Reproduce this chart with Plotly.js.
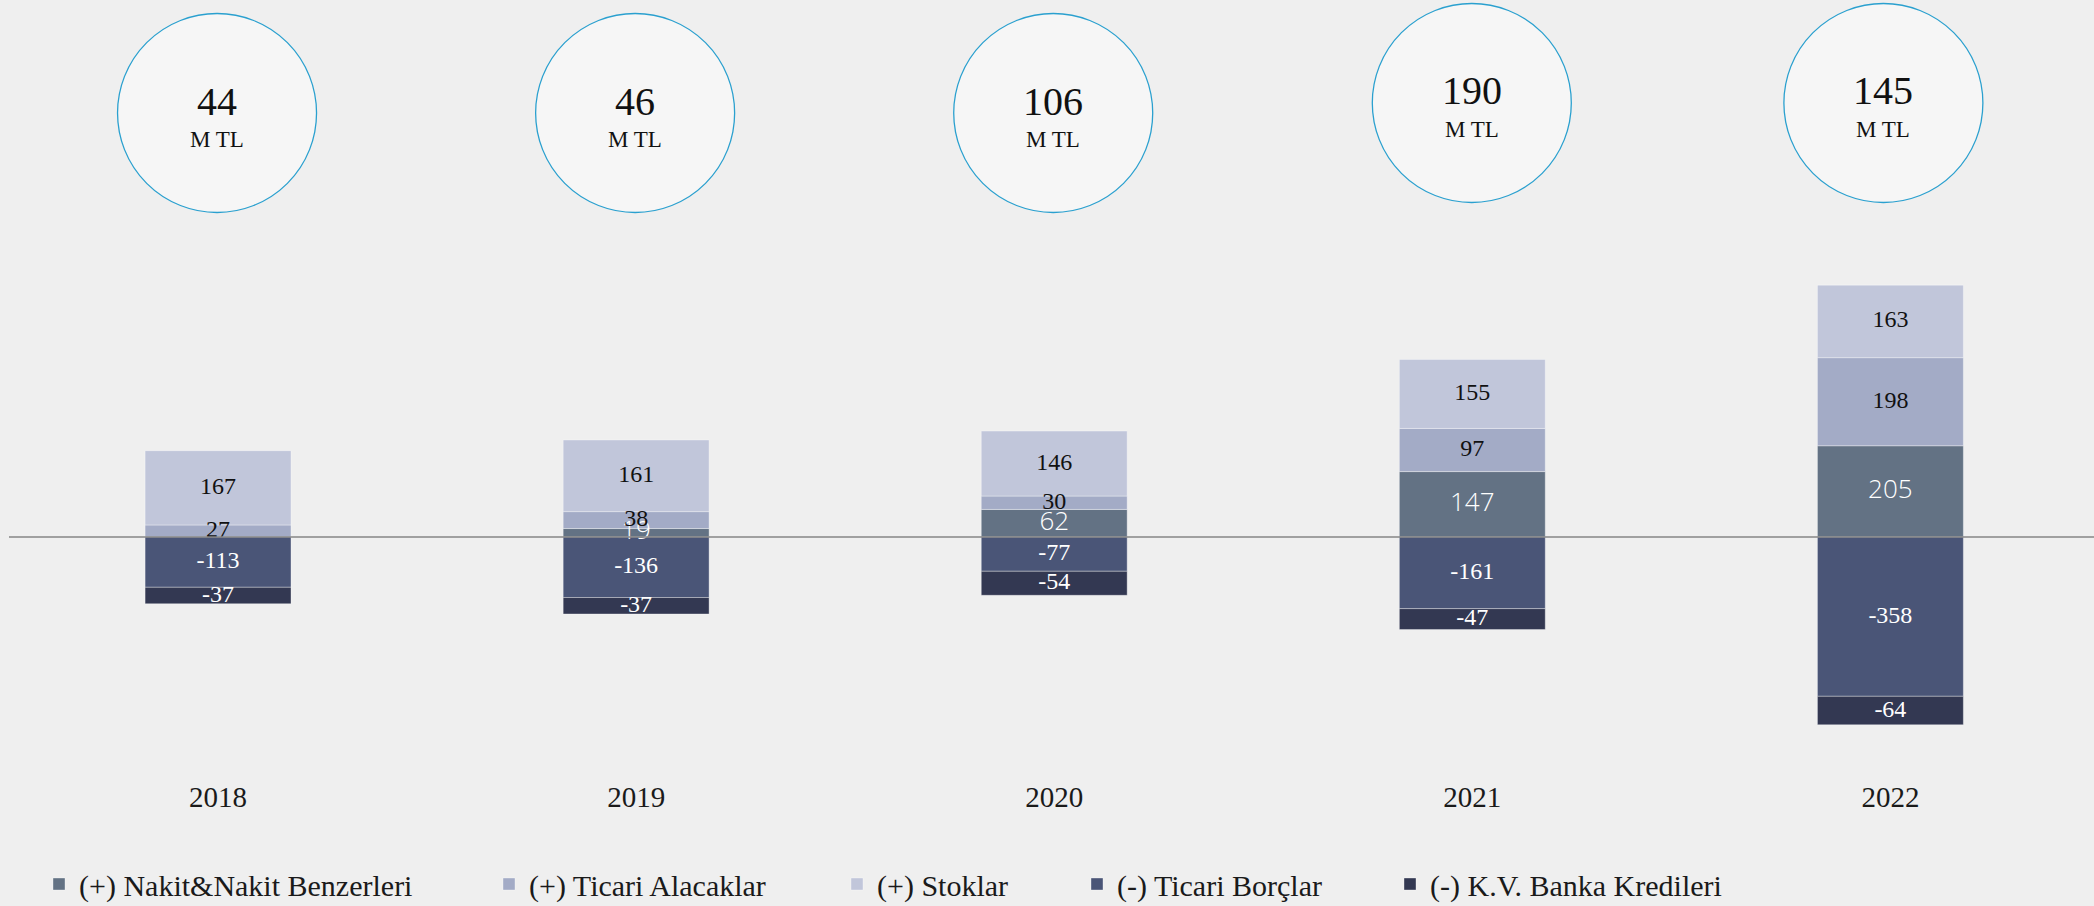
<!DOCTYPE html>
<html>
<head>
<meta charset="utf-8">
<script src="https://cdn.plot.ly/plotly-3.0.1.min.js"></script>
<style>
  html, body { margin: 0; padding: 0; background: #efefef; }
  #chart { width: 2094px; height: 906px; }
</style>
</head>
<body>
<div id="chart"></div>
<script>
// ---- data ----
const years = ['2018', '2019', '2020', '2021', '2022'];
const nakit = [null, 19, 62, 147, 205];        // (+) Nakit&Nakit Benzerleri
const alacaklar = [27, 38, 30, 97, 198];       // (+) Ticari Alacaklar
const stoklar = [167, 161, 146, 155, 163];     // (+) Stoklar
const borclar = [-113, -136, -77, -161, -358]; // (-) Ticari Borçlar
const krediler = [-37, -37, -54, -47, -64];    // (-) K.V. Banka Kredileri
const netTotals = [44, 46, 106, 190, 145];     // circle values
const unitLabel = 'M TL';
const seriesNames = [
  '(+) Nakit&Nakit Benzerleri',
  '(+) Ticari Alacaklar',
  '(+) Stoklar',
  '(-) Ticari Borçlar',
  '(-) K.V. Banka Kredileri'
];

// ---- styling / geometry ----
const W = 2094, H = 906;
const M = {l: 9, r: 0, t: 0, b: 140};
const plotW = W - M.l - M.r, plotH = H - M.t - M.b;
const zeroPx = 537, pxPerUnit = 0.445;
const yRange = [-(plotH - zeroPx) / pxPerUnit, zeroPx / pxPerUnit];

const colors = ['#637284', '#a3abc6', '#c1c6da', '#4a5577', '#333852'];
const serif = 'Liberation Serif, Times New Roman, serif';
const sans = 'Open Sans, Noto Sans, sans-serif';
const textFonts = [
  {family: sans, size: 26, color: '#ffffff', weight: 300},
  {family: serif, size: 24, color: '#111111'},
  {family: serif, size: 24, color: '#111111'},
  {family: serif, size: 24, color: '#ffffff'},
  {family: serif, size: 24, color: '#ffffff'}
];
const seriesValues = [nakit, alacaklar, stoklar, borclar, krediler];
const legendIds = ['legend', 'legend2', 'legend3', 'legend4', 'legend5'];
const legendSquareLeft = [53, 503, 851, 1091, 1404];

const barTraces = seriesValues.map((vals, k) => ({
  type: 'bar',
  name: seriesNames[k],
  x: years,
  y: vals,
  width: 0.349,
  marker: {color: colors[k], line: {color: 'rgba(255,255,255,0.35)', width: 1}},
  hoverinfo: 'skip',
  legend: legendIds[k]
}));

// label traces: centred in each stacked segment, drawn above all bars
const posBase = years.map(() => 0);
const negBase = years.map(() => 0);
const labelTraces = seriesValues.map((vals, k) => {
  const ys = vals.map((v, i) => {
    if (v === null) return null;
    if (v >= 0) { const m = posBase[i] + v / 2; posBase[i] += v; return m; }
    const m = negBase[i] + v / 2; negBase[i] += v; return m;
  });
  return {
    type: 'scatter', mode: 'text',
    x: years, y: ys,
    text: vals.map(v => (v === null ? '' : String(v))),
    textposition: 'middle center',
    textfont: textFonts[k],
    cliponaxis: false,
    showlegend: false,
    hoverinfo: 'skip'
  };
});

// circles
const circleCy = [113, 113, 113, 103, 103];
const circleDx = [-1, -1, -1, -0.5, -7];
const R = 99.5;
const shapes = [];
const annotations = [];
years.forEach((yr, i) => {
  const yp = (plotH - circleCy[i]) / plotH;
  shapes.push({
    type: 'circle', xref: 'x', yref: 'paper',
    xsizemode: 'pixel', ysizemode: 'pixel',
    xanchor: i, yanchor: yp,
    x0: -R + circleDx[i], x1: R + circleDx[i], y0: -R, y1: R,
    line: {color: '#2aa0cf', width: 1.3},
    fillcolor: '#f6f6f6', layer: 'above'
  });
  annotations.push({
    xref: 'x', yref: 'paper', x: i, y: yp, xshift: circleDx[i], yshift: 12,
    text: String(netTotals[i]), showarrow: false,
    xanchor: 'center', yanchor: 'middle',
    font: {family: serif, size: 40, color: '#111111'}
  });
  annotations.push({
    xref: 'x', yref: 'paper', x: i, y: yp, xshift: circleDx[i], yshift: -26.5,
    text: unitLabel, showarrow: false,
    xanchor: 'center', yanchor: 'middle',
    font: {family: serif, size: 23, color: '#111111'}
  });
});
// zero line on top of bars
shapes.push({
  type: 'line', xref: 'paper', yref: 'y', x0: 0, x1: 1, y0: 0, y1: 0,
  line: {color: '#868686', width: 1.5}, layer: 'above'
});

const layout = {
  width: W, height: H,
  margin: Object.assign({autoexpand: false, pad: 0}, M),
  paper_bgcolor: '#efefef',
  plot_bgcolor: '#efefef',
  barmode: 'relative',
  showlegend: true,
  xaxis: {
    type: 'category', range: [-0.5, 4.487],
    showgrid: false, zeroline: false, showline: false, ticks: '',
    ticklabelstandoff: 11,
    tickfont: {family: serif, size: 29, color: '#1a1a1a'},
    fixedrange: true
  },
  yaxis: {
    range: yRange, showgrid: false, zeroline: false, showline: false,
    showticklabels: false, ticks: '', fixedrange: true
  },
  shapes: shapes,
  annotations: annotations
};
legendIds.forEach((id, k) => {
  layout[id] = {
    orientation: 'h',
    x: (legendSquareLeft[k] - 14 - M.l) / plotW,
    xanchor: 'left',
    y: (plotH - 884) / plotH,
    yanchor: 'middle',
    bgcolor: 'rgba(0,0,0,0)',
    borderwidth: 0,
    font: {family: serif, size: 30, color: '#1a1a1a'},
    itemclick: false, itemdoubleclick: false
  };
});

Plotly.newPlot('chart', barTraces.concat(labelTraces), layout, {displayModeBar: false, staticPlot: true});
</script>
</body>
</html>
